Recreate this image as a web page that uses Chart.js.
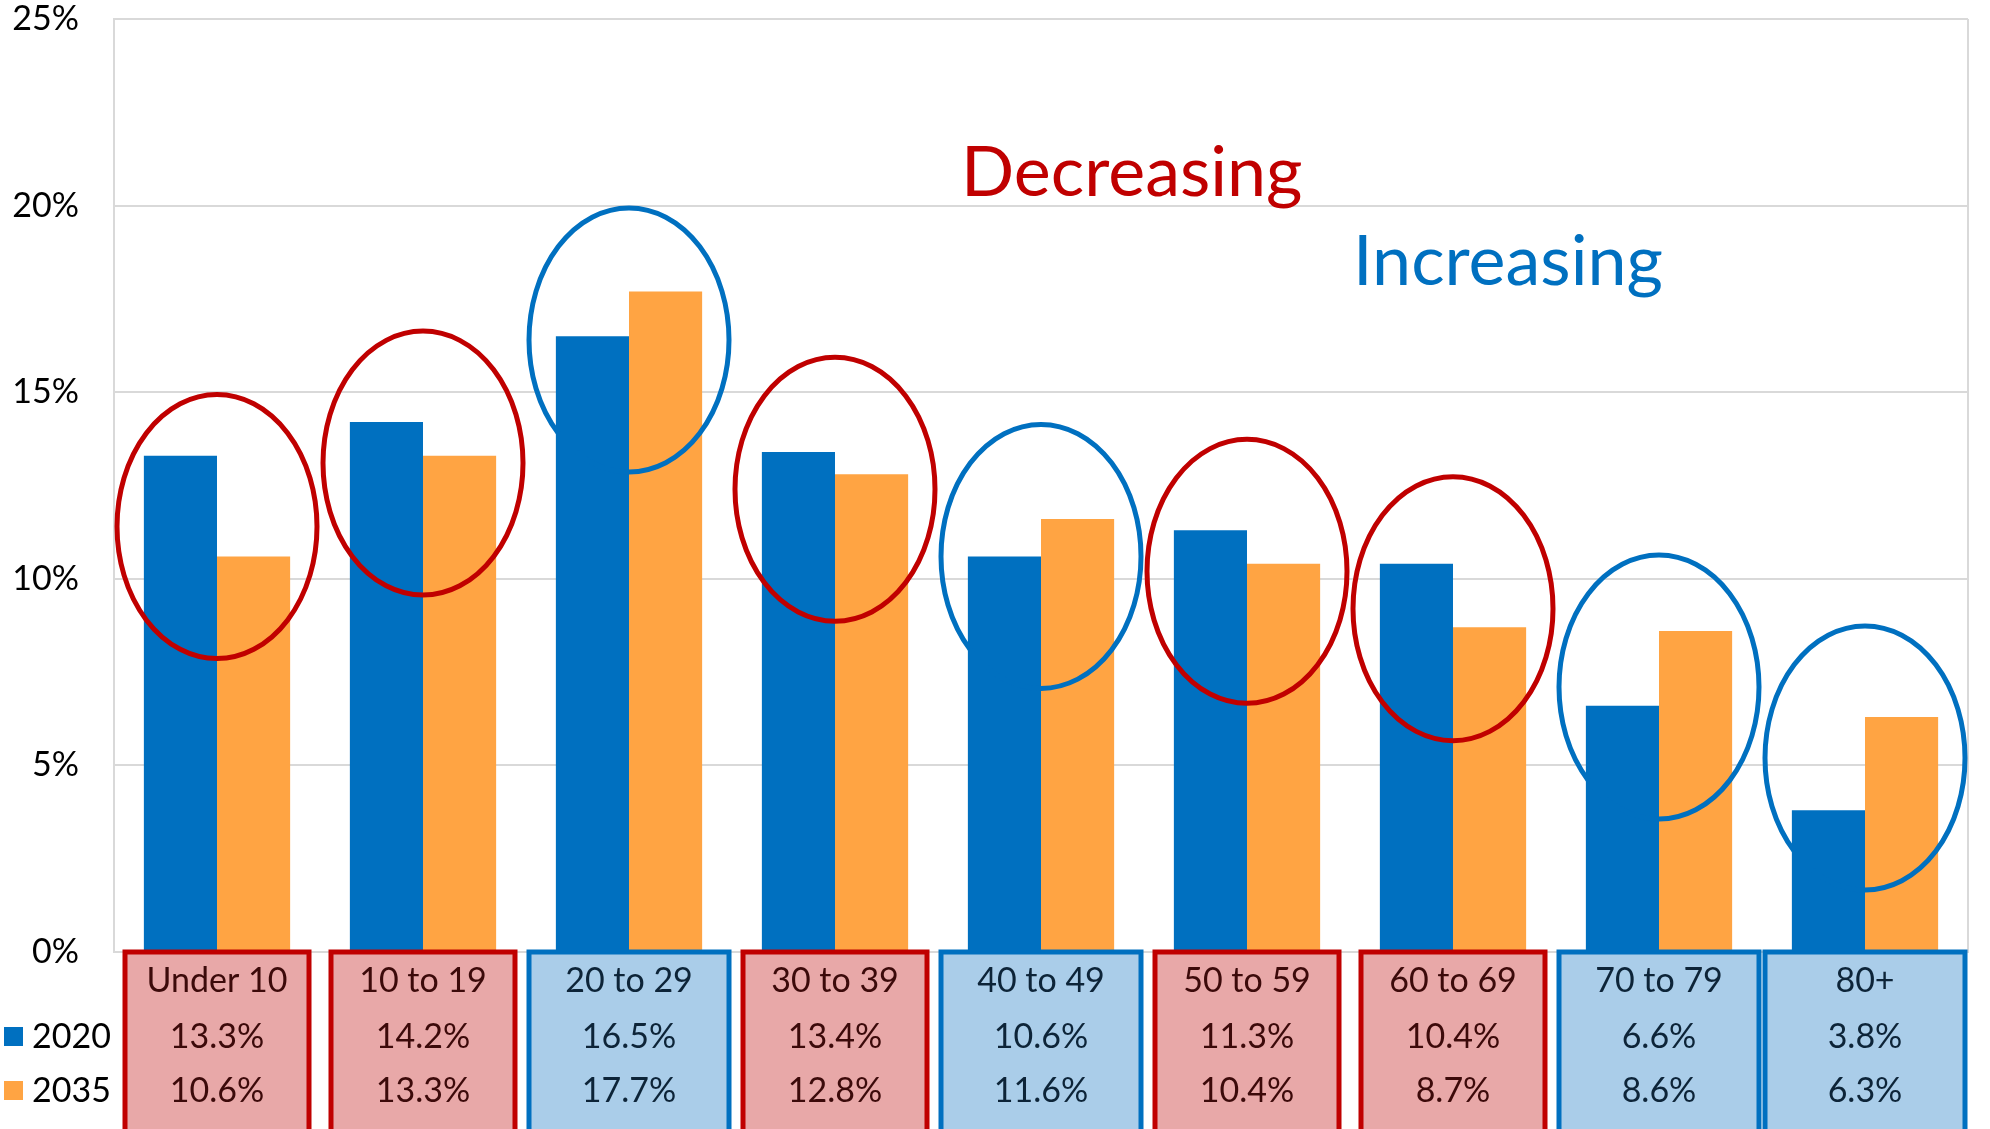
<!DOCTYPE html>
<html>
<head>
<meta charset="utf-8">
<script src="https://cdn.jsdelivr.net/npm/chart.js@4"></script>
<style>
  html, body { margin: 0; padding: 0; background: #fff; }
  #wrap { width: 1990px; height: 1129px; }
</style>
</head>
<body>
<div id="wrap"><canvas id="chart" width="1990" height="1129"></canvas></div>
<script>
const ageGroups = ['Under 10', '10 to 19', '20 to 29', '30 to 39', '40 to 49', '50 to 59', '60 to 69', '70 to 79', '80+'];
const share2020 = [13.3, 14.2, 16.5, 13.4, 10.6, 11.3, 10.4, 6.6, 3.8];
const share2035 = [10.6, 13.3, 17.7, 12.8, 11.6, 10.4, 8.7, 8.6, 6.3];
// where the hand drawn ellipses sit (value at their centre)
const ringCentre = [11.4, 13.1, 16.4, 12.4, 10.6, 10.2, 9.2, 7.1, 5.2];
const yTicks = [0, 5, 10, 15, 20, 25];

const BLUE = '#0070C0';
const ORANGE = '#FFA443';
const RED = '#C00000';
const FONT = 'Lato, "Open Sans", sans-serif';

// extra drawing: frame, ellipses, notes, table under the axis, legend
const decorations = {
  id: 'decorations',
  afterDatasetsDraw(chart) {
    const { ctx, chartArea: a, scales: { x, y } } = chart;
    ctx.save();

    // plot frame (right side + bottom)
    ctx.strokeStyle = '#d9d9d9';
    ctx.lineWidth = 2;
    ctx.beginPath();
    ctx.moveTo(a.right, a.top);
    ctx.lineTo(a.right, a.bottom);
    ctx.lineTo(a.left, a.bottom);
    ctx.stroke();

    // ellipses round each pair
    ageGroups.forEach((g, i) => {
      const down = share2035[i] < share2020[i];
      ctx.strokeStyle = down ? RED : BLUE;
      ctx.lineWidth = 5;
      ctx.beginPath();
      ctx.ellipse(x.getPixelForValue(i), y.getPixelForValue(ringCentre[i]), 100, 132, 0, 0, Math.PI * 2);
      ctx.stroke();
    });

    // notes
    ctx.font = '70px ' + FONT;
    ctx.textBaseline = 'middle';
    ctx.textAlign = 'left';
    ctx.fillStyle = RED;
    ctx.fillText('Decreasing', 961, 173);
    ctx.fillStyle = BLUE;
    ctx.fillText('Increasing', 1353, 262);

    // table boxes
    ageGroups.forEach((g, i) => {
      const down = share2035[i] < share2020[i];
      const cx = x.getPixelForValue(i);
      const w = down ? 184 : 200;
      const top = a.bottom - 2;
      ctx.fillStyle = down ? '#E8A8A8' : '#AACDE9';
      ctx.fillRect(cx - w / 2, top, w, 200);
      ctx.strokeStyle = down ? RED : BLUE;
      ctx.lineWidth = 5;
      ctx.strokeRect(cx - w / 2, top + 2, w, 200);
      ctx.fillStyle = down ? '#3C0A0A' : '#0D2438';
      ctx.font = '34px ' + FONT;
      ctx.textAlign = 'center';
      ctx.fillText(g, cx, 981);
      ctx.fillText(share2020[i].toFixed(1) + '%', cx, 1037);
      ctx.fillText(share2035[i].toFixed(1) + '%', cx, 1091);
    });

    // legend on the left of the table
    const legend = [['2020', BLUE, 1037], ['2035', ORANGE, 1091]];
    legend.forEach(([label, col, ly]) => {
      ctx.fillStyle = col;
      ctx.fillRect(4, ly - 10, 19, 19);
      ctx.fillStyle = '#000';
      ctx.textAlign = 'left';
      ctx.font = '34px ' + FONT;
      ctx.fillText(label, 32, ly);
    });

    ctx.restore();
  }
};

new Chart(document.getElementById('chart'), {
  type: 'bar',
  data: {
    labels: ageGroups,
    datasets: [
      { label: '2020', data: share2020, backgroundColor: BLUE },
      { label: '2035', data: share2035, backgroundColor: ORANGE }
    ]
  },
  options: {
    responsive: false,
    animation: false,
    layout: { padding: { top: 19, right: 22, bottom: 177, left: 0 } },
    datasets: { bar: { categoryPercentage: 0.71, barPercentage: 1 } },
    scales: {
      x: { display: false },
      y: {
        min: 0,
        max: 25,
        afterFit(s) { s.width = 114; s.paddingTop = 0; s.paddingBottom = 0; },
        afterBuildTicks(s) { s.ticks = yTicks.map(v => ({ value: v })); },
        grid: { color: '#d9d9d9', lineWidth: 2, drawTicks: false },
        border: { color: '#d9d9d9', width: 2 },
        ticks: {
          padding: 35,
          color: '#000',
          font: { family: FONT, size: 34 },
          callback: v => v + '%'
        }
      }
    },
    plugins: { legend: { display: false }, tooltip: { enabled: false } }
  },
  plugins: [decorations]
});
</script>
</body>
</html>
